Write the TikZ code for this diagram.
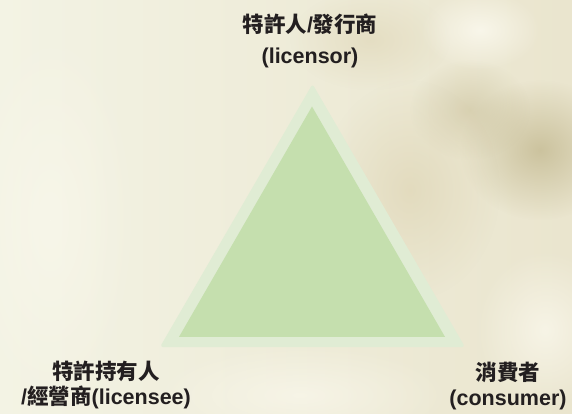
\documentclass[tikz,border=0pt]{standalone}
\usepackage{fontspec}
\setmainfont{Liberation Sans}
\newfontfamily\cjk{Noto Sans CJK TC}
\usetikzlibrary{fadings}
\tikzfading[name=softblob, inner color=transparent!0, outer color=transparent!100]
\definecolor{bgL}{RGB}{243,243,228}
\definecolor{bgR}{RGB}{234,229,206}
\definecolor{tanD}{RGB}{196,186,146}
\definecolor{tanM}{RGB}{220,210,176}
\definecolor{creamW}{RGB}{252,250,240}
\definecolor{triOut}{RGB}{224,236,212}
\definecolor{triIn}{RGB}{197,223,174}
\definecolor{txt}{RGB}{35,31,32}
\begin{document}
\begin{tikzpicture}[x=1pt,y=-1pt,
  lbl/.style={font=\bfseries\fontsize{21.5}{27}\selectfont, text=txt, inner sep=0pt, anchor=base},
  blob/.style={path fading=softblob}]
\useasboundingbox (0,0) rectangle (572,413);
% background
\shade[left color=bgL, right color=bgR] (0,0) rectangle (572,413);
\fill[tanD, blob, opacity=0.8] (540,150) ellipse (80 and 70);
\fill[tanD, blob, opacity=0.5] (470,110) ellipse (60 and 50);
\fill[tanM, blob, opacity=0.6] (410,190) ellipse (90 and 110);
\fill[tanM, blob, opacity=0.5] (370,40) ellipse (80 and 50);
\fill[creamW, blob, opacity=0.8] (480,30) ellipse (60 and 40);
\fill[creamW, blob, opacity=0.7] (545,330) ellipse (70 and 80);
\fill[creamW, blob, opacity=0.6] (300,395) ellipse (150 and 50);
\fill[creamW, blob, opacity=0.5] (50,220) ellipse (90 and 200);
% triangle
\fill[triOut, rounded corners=3pt] (312.5,84) -- (465,347) -- (160,347) -- cycle;
\fill[triIn] (312,106.5) -- (445,336.9) -- (179,336.9) -- cycle;
% labels
\node[lbl] (t1) at (310,32) {{\cjk 特許人}/{\cjk 發行商}};
\node[lbl] (t2) at (310,63) {(licensor)};
\node[lbl] (l1) at (106,379) {{\cjk 特許持有人}};
\node[lbl] (l2) at (106,404) {/{\cjk 經營商}(licensee)};
\node[lbl] (r1) at (508,380) {{\cjk 消費者}};
\node[lbl] (r2) at (508,405) {(consumer)};
\end{tikzpicture}
\end{document}
